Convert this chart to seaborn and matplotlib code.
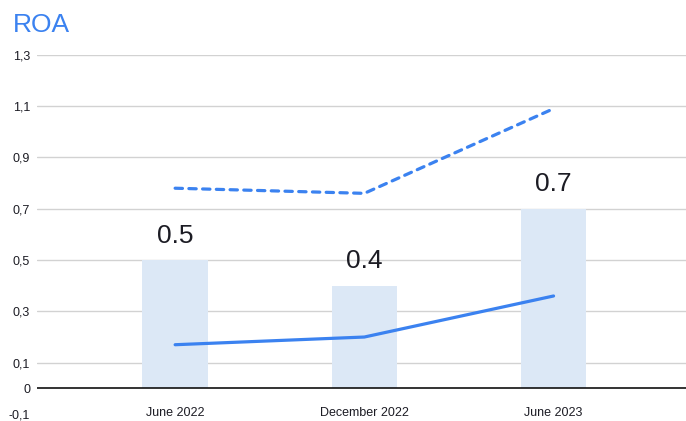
import matplotlib
matplotlib.use('Agg')
import matplotlib.pyplot as plt
import seaborn as sns
import pandas as pd

periods = ['June 2022', 'December 2022', 'June 2023']
roa = [0.5, 0.4, 0.7]
line_solid = [0.17, 0.20, 0.36]
line_dashed = [0.78, 0.76, 1.09]
yticks = [-0.1, 0, 0.1, 0.3, 0.5, 0.7, 0.9, 1.1, 1.3]

blue = '#3b82f0'
bar_col = '#dce8f6'

sns.set_theme(style='white')
plt.rcParams['font.family'] = ['Liberation Sans', 'DejaVu Sans']

df = pd.DataFrame({'period': periods, 'roa': roa,
                   'solid': line_solid, 'dashed': line_dashed})

fig = plt.figure(figsize=(6.86, 4.21), dpi=100)
ax = fig.add_axes([37 / 686, 1 - 414 / 421, 1 - 37 / 686, (414 - 54.8) / 421])

sns.barplot(data=df, x='period', y='roa', color=bar_col, saturation=1,
            width=0.345, linewidth=0, ax=ax, zorder=2)
sns.lineplot(data=df, x='period', y='solid', color=blue, lw=2.3,
             solid_capstyle='round', ax=ax, zorder=3)
sns.lineplot(data=df, x='period', y='dashed', color=blue, lw=2.3,
             ax=ax, zorder=3)
# dash pattern for the upper line
ax.lines[-1].set_linestyle((0, (2.3, 2.0)))
ax.lines[-1].set_dash_capstyle('round')

for i, v in enumerate(roa):
    ax.annotate(f'{v}', (i, v), xytext=(0, 9), textcoords='offset points',
                ha='center', va='bottom', fontsize=19, color='#1c1c24')

ax.set_ylim(-0.1, 1.3)
ax.set_xlim(-0.73, 2.7)
ax.set_yticks(yticks)
ax.set_yticklabels([('%g' % t).replace('.', ',') for t in yticks])
for t in yticks:
    if t > 0:
        ax.axhline(t, color='#d2d2d2', lw=1, zorder=0)
ax.axhline(0, color='#111111', lw=1.2, zorder=4)

for s in ax.spines.values():
    s.set_visible(False)
ax.tick_params(axis='y', length=0, pad=5, labelsize=9, labelcolor='#1c1c24')
ax.tick_params(axis='x', length=0, pad=-5, labelsize=9, labelcolor='#1c1c24')
ax.set_xlabel('')
ax.set_ylabel('')

fig.text(13 / 686, 1 - 31.7 / 421, 'ROA', fontsize=19, color=blue,
         ha='left', va='baseline')

fig.savefig('out.png', dpi=100)
